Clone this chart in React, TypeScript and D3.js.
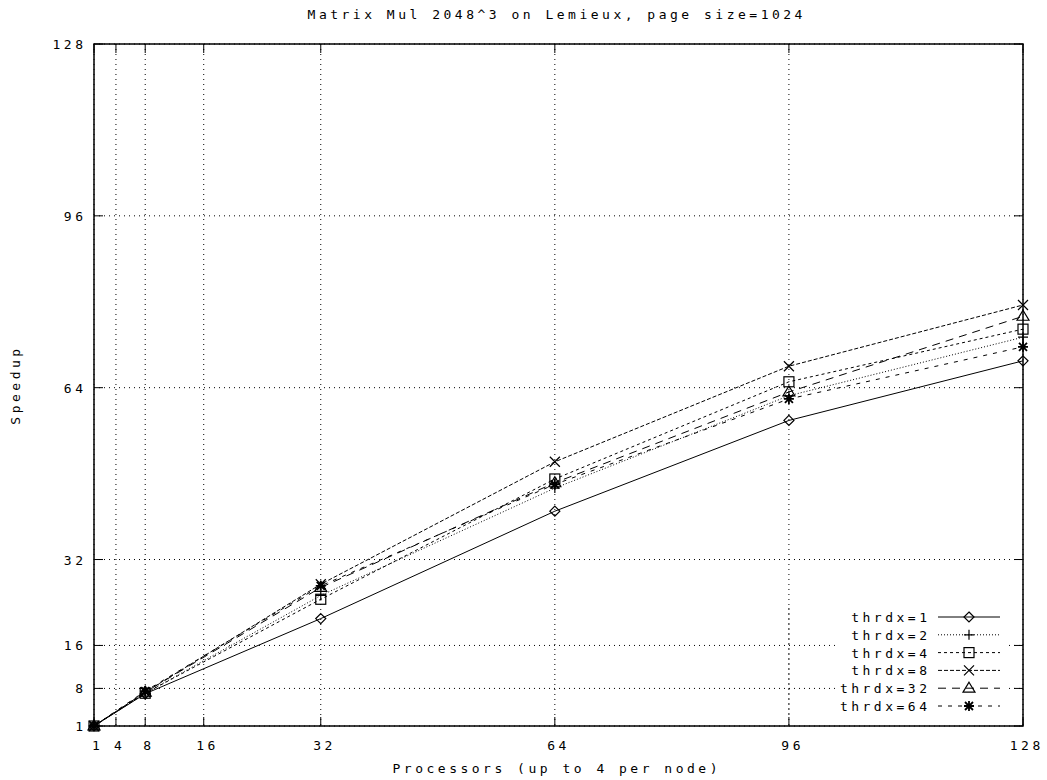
import React from "react";
import * as d3 from "d3";

const procs = [1, 8, 32, 64, 96, 128];
const thrdx1 = [1, 7.0, 21.0, 41.0, 57.9, 69.0];
const thrdx2 = [1, 7.1, 25.3, 45.3, 62.5, 73.4];
const thrdx4 = [1, 7.1, 24.6, 47.0, 65.1, 74.9];
const thrdx8 = [1, 7.3, 27.4, 50.2, 68.0, 79.4];
const thrdx32 = [1, 7.3, 26.8, 46.3, 63.2, 77.3];
const thrdx64 = [1, 7.5, 27.1, 46.0, 61.9, 71.6];
const seriesNames = ["thrdx=1", "thrdx=2", "thrdx=4", "thrdx=8", "thrdx=32", "thrdx=64"];
const xTicks = [1, 4, 8, 16, 32, 64, 96, 128];
const yTicks = [1, 8, 16, 32, 64, 96, 128];

const W = 1047;
const H = 780;
const L = 94, R = 1023, T = 44, B = 726;
const FONT = "'DejaVu Sans Mono', monospace";
const FS = 13;
const LS = 3.5;

const dashes = ["", "1,2", "3,3", "4,2", "8,6", "4,6"];
const markers = ["diamond", "plus", "square", "cross", "triangle", "star"];

function Marker({ type, x, y }: { type: string; x: number; y: number }) {
  const s = 5;
  const p = { stroke: "#000", strokeWidth: 1.2, fill: "none" };
  switch (type) {
    case "diamond":
      return <path d={`M${x},${y - s}L${x + s},${y}L${x},${y + s}L${x - s},${y}Z`} {...p} />;
    case "plus":
      return <path d={`M${x - s},${y}H${x + s}M${x},${y - s}V${y + s}`} {...p} />;
    case "square":
      return <rect x={x - s} y={y - s} width={2 * s} height={2 * s} {...p} />;
    case "cross":
      return <path d={`M${x - s},${y - s}L${x + s},${y + s}M${x - s},${y + s}L${x + s},${y - s}`} {...p} />;
    case "triangle":
      return <path d={`M${x},${y - s - 1}L${x + s + 1},${y + s - 1}L${x - s - 1},${y + s - 1}Z`} {...p} />;
    case "star":
      return (
        <path
          d={`M${x - s},${y}H${x + s}M${x},${y - s}V${y + s}M${x - s + 1},${y - s + 1}L${x + s - 1},${y + s - 1}M${x - s + 1},${y + s - 1}L${x + s - 1},${y - s + 1}`}
          {...p}
          strokeWidth={1.8}
        />
      );
    default:
      return null;
  }
}

export default function App() {
  const x = d3.scaleLinear().domain([1, 128]).range([L, R]);
  const y = d3.scaleLinear().domain([1, 128]).range([B, T]);
  const allSeries = [thrdx1, thrdx2, thrdx4, thrdx8, thrdx32, thrdx64];
  const line = d3
    .line<number>()
    .x((_, i) => x(procs[i]))
    .y((d) => y(d));

  const keyTop = 608;
  const keyRowH = 17.8;
  const keyTextRight = 927;
  const sampleX0 = 938;
  const sampleX1 = 1000;
  const tickLen = 9;

  const textStyle = { fontFamily: FONT, fontSize: FS, letterSpacing: `${LS}px`, fill: "#000" } as React.CSSProperties;

  return (
    <svg width={W} height={H} style={{ position: "absolute", left: 0, top: 0, background: "#fff" }}>
      <rect x={0} y={0} width={W} height={H} fill="#fff" />
      {/* grid */}
      {xTicks.map((t) => (
        <line key={"gx" + t} x1={x(t)} x2={x(t)} y1={T} y2={B} stroke="#000" strokeDasharray="1,4" strokeWidth={1} />
      ))}
      {yTicks.map((t) => (
        <line key={"gy" + t} x1={L} x2={R} y1={y(t)} y2={y(t)} stroke="#000" strokeDasharray="1,4" strokeWidth={1} />
      ))}
      {/* key background clears grid */}
      <rect x={836} y={keyTop} width={172} height={108} fill="#fff" />
      <line x1={x(96)} x2={x(96)} y1={keyTop} y2={keyTop + 108} stroke="#000" strokeDasharray="1,4" />
      {/* ticks */}
      {xTicks.map((t) => (
        <g key={"tx" + t}>
          <line x1={x(t)} x2={x(t)} y1={B} y2={B - tickLen} stroke="#000" />
          <line x1={x(t)} x2={x(t)} y1={T} y2={T + tickLen} stroke="#000" />
          <text x={x(t) + LS / 2 + 2} y={750} textAnchor="middle" style={textStyle}>
            {t}
          </text>
        </g>
      ))}
      {yTicks.map((t) => (
        <g key={"ty" + t}>
          <line x1={L} x2={L + tickLen} y1={y(t)} y2={y(t)} stroke="#000" />
          <line x1={R} x2={R - tickLen} y1={y(t)} y2={y(t)} stroke="#000" />
          <text x={83 + LS} y={y(t) + 5} textAnchor="end" style={textStyle}>
            {t}
          </text>
        </g>
      ))}
      {/* frame */}
      <rect x={L} y={T} width={R - L} height={B - T} fill="none" stroke="#000" strokeWidth={1.5} />
      {/* series */}
      {allSeries.map((s, i) => (
        <g key={"s" + i}>
          <path d={line(s) || ""} fill="none" stroke="#000" strokeWidth={1} strokeDasharray={dashes[i] || undefined} />
          {s.map((v, j) => (
            <Marker key={j} type={markers[i]} x={x(procs[j])} y={y(v)} />
          ))}
        </g>
      ))}
      {/* legend */}
      {seriesNames.map((n, i) => {
        const ry = keyTop + 9 + i * keyRowH;
        return (
          <g key={"k" + i}>
            <text x={keyTextRight + LS} y={ry + 5} textAnchor="end" style={textStyle}>
              {n}
            </text>
            <line x1={sampleX0} x2={sampleX1} y1={ry} y2={ry} stroke="#000" strokeDasharray={dashes[i] || undefined} />
            <Marker type={markers[i]} x={(sampleX0 + sampleX1) / 2} y={ry} />
          </g>
        );
      })}
      {/* title and axis labels */}
      <text x={555 + LS / 2} y={19} textAnchor="middle" style={textStyle}>
        Matrix Mul 2048^3 on Lemieux, page size=1024
      </text>
      <text x={555 + LS / 2} y={773} textAnchor="middle" style={textStyle}>
        Processors (up to 4 per node)
      </text>
      <text transform={`translate(20,385) rotate(-90)`} textAnchor="middle" style={textStyle}>
        Speedup
      </text>
    </svg>
  );
}
